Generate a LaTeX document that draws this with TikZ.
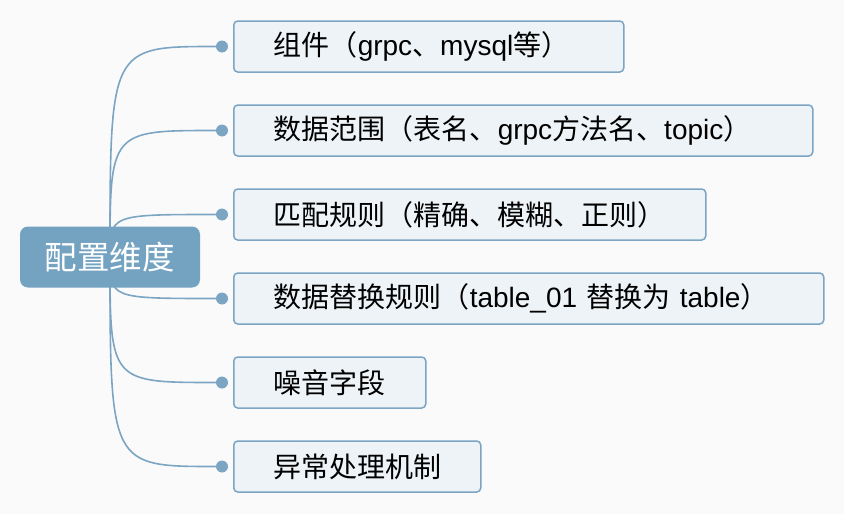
\documentclass[tikz,border=0pt]{standalone}
\usepackage{fontspec}
\setmainfont{Liberation Sans}
\newfontfamily\cjk{Noto Sans CJK SC}
\usetikzlibrary{backgrounds}
\definecolor{mapblue}{HTML}{74A2C1}
\definecolor{linkblue}{HTML}{7BA5C3}
\definecolor{boxfill}{HTML}{EEF3F7}
\definecolor{pagebg}{HTML}{FAFAFB}
\tikzset{
  rootbox/.style={fill=mapblue, rounded corners=8pt, minimum width=180pt, minimum height=61pt,
    text=white, font=\cjk\fontsize{32.5}{34}\selectfont, inner sep=0pt},
  leafbox/.style={draw=linkblue, line width=1.5pt, fill=boxfill, rounded corners=4pt,
    minimum height=51pt, anchor=west, inner xsep=40pt, inner ysep=0pt, align=left,
    font=\fontsize{28}{30}\selectfont},
  leafdot/.style={circle, fill=linkblue, inner sep=0pt, minimum size=12pt},
  link/.style={draw=linkblue, line width=1.6pt}
}

\begin{document}
\begin{tikzpicture}[x=1pt,y=-1pt]
\useasboundingbox (0,0) rectangle (844,514);
\begin{scope}[on background layer]
  \fill[pagebg] (0,0) rectangle (844,514);
\end{scope}
\node[rootbox] (root) at (110,257) {配置维度};
\foreach \i/\y/\tw/\txt in {
  1/46.5/310/{{\cjk 组件（}grpc{\cjk 、}mysql{\cjk 等）}},
  2/130.5/499/{{\cjk 数据范围（表名、}grpc{\cjk 方法名、}topic{\cjk ）}},
  3/214.5/392/{{\cjk 匹配规则（精确、模糊、正则）}},
  4/298.5/510/{{\cjk 数据替换规则（}table\_01 {\cjk 替换为} table{\cjk ）}},
  5/382.5/112/{{\cjk 噪音字段}},
  6/466.5/167/{{\cjk 异常处理机制}}}{
  \node[leafbox, text width=\tw pt] (leaf\i) at (233,\y) {\txt};
  \node[leafdot] (dot\i) at (222,\y) {};
  \begin{scope}[on background layer]
    \draw[link] (root.center) .. controls (root.center |- dot\i) .. (dot\i);
  \end{scope}
}
\end{tikzpicture}
\end{document}
